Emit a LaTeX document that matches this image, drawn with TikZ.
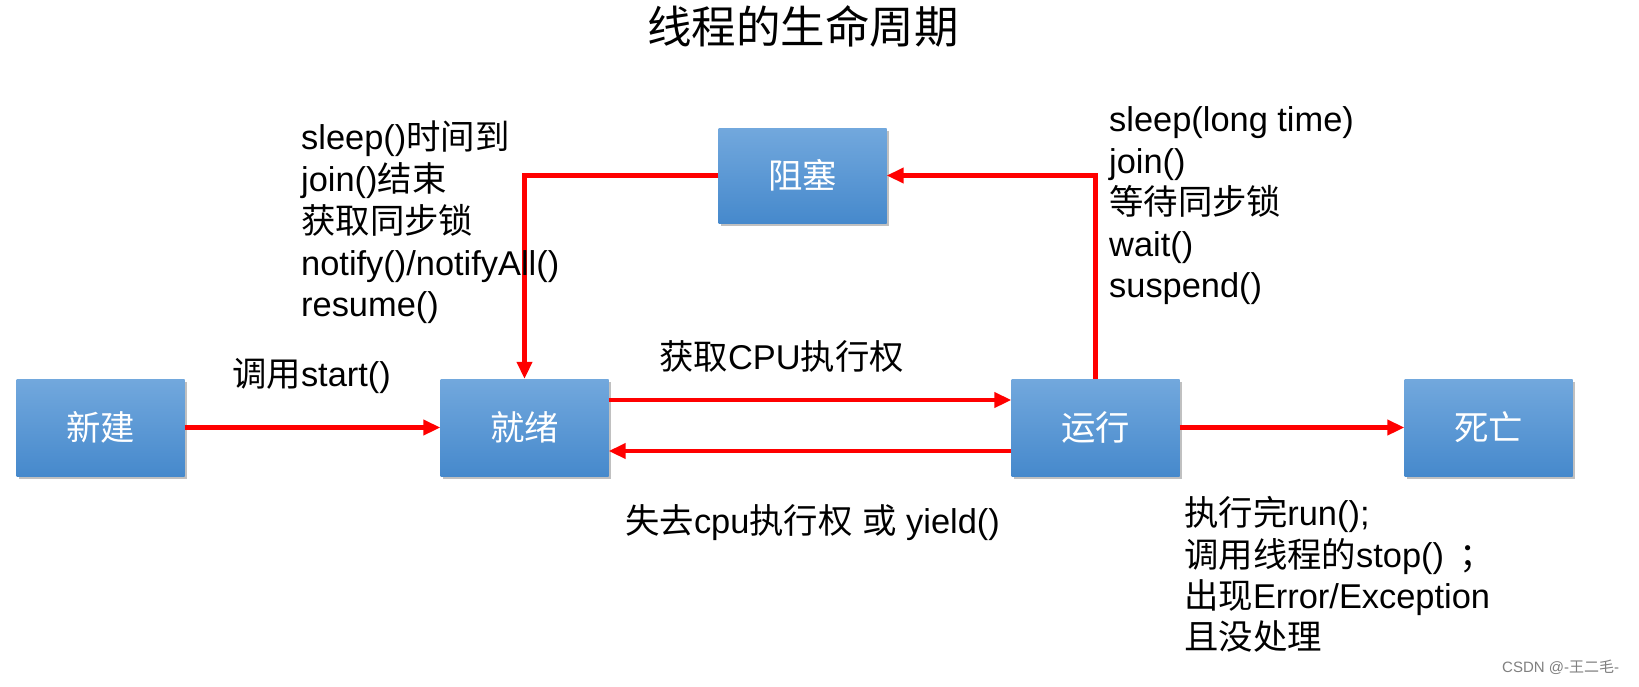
\documentclass[tikz,border=0pt]{standalone}
\usepackage{fontspec}
\setmainfont{Liberation Sans}
\newfontfamily\cjk{Noto Sans CJK SC}
\usetikzlibrary{arrows.meta,shadows}
\newcommand{\zh}[1]{{\cjk #1}}
\definecolor{boxtop}{RGB}{114,168,221}
\definecolor{boxbot}{RGB}{70,137,204}
\definecolor{arrowred}{RGB}{255,0,0}
\tikzset{
  state/.style={rectangle, minimum width=168pt, minimum height=97pt, inner sep=0pt,
    top color=boxtop, bottom color=boxbot, text=white,
    font=\cjk\fontsize{34.4}{40}\selectfont,
    drop shadow={shadow xshift=2pt, shadow yshift=-3pt, opacity=0.35, fill=black!70}},
  flow/.style={draw=arrowred, line width=4.2pt, -{Triangle[length=17pt,width=15pt]}},
  lbl/.style={anchor=base west, inner sep=0pt, font=\fontsize{34.4}{41.7}\selectfont},
}
\begin{document}
\begin{tikzpicture}[x=1pt,y=-1pt]
\useasboundingbox[fill=white] (0,0) rectangle (1639,686);
% title
\node[anchor=base, inner sep=0pt, font=\cjk\fontsize{44.5}{50}\selectfont] (title) at (803,43) {线程的生命周期};
% states
\node[state] (xinjian) at (100.5,427.5) {新建};
\node[state] (jiuxu) at (524.5,427.5) {就绪};
\node[state] (yunxing) at (1095.5,427.5) {运行};
\node[state] (siwang) at (1488.5,427.5) {死亡};
\node[state, minimum height=95pt] (zusai) at (802.5,175.5) {阻塞};
% connectors
\draw[flow] (xinjian) -- (jiuxu);
\draw[flow] ([yshift=27.5pt]jiuxu.east) -- ([yshift=27.5pt]yunxing.west);
\draw[flow] ([yshift=-23.5pt]yunxing.west) -- ([yshift=-23.5pt]jiuxu.east);
\draw[flow] (yunxing) -- (siwang);
\draw[flow] (yunxing.north) |- (zusai.east);
\draw[flow] (zusai.west) -| (jiuxu.north);
% labels
\node[lbl] (start) at (232,386) {\zh{调用}start()};
\node[lbl] (getcpu) at (659,369) {\zh{获取}CPU\zh{执行权}};
\node[lbl] (losecpu) at (625,533) {\zh{失去}cpu\zh{执行权} \zh{或} yield()};
\node[lbl] (a1) at (301,149) {sleep()\zh{时间到}};
\node[lbl] (a2) at (301,191) {join()\zh{结束}};
\node[lbl] (a3) at (301,233) {\zh{获取同步锁}};
\node[lbl] (a4) at (301,275) {notify()/notifyAll()};
\node[lbl] (a5) at (301,316) {resume()};
\node[lbl] (b1) at (1109,131) {sleep(long time)};
\node[lbl] (b2) at (1109,173) {join()};
\node[lbl] (b3) at (1109,214) {\zh{等待同步锁}};
\node[lbl] (b4) at (1109,256) {wait()};
\node[lbl] (b5) at (1109,297) {suspend()};
\node[lbl] (c1) at (1184,525) {\zh{执行完}run();};
\node[lbl] (c2) at (1184,567) {\zh{调用线程的}stop()\hspace{0.45em}\zh{；}};
\node[lbl] (c3) at (1184,608) {\zh{出现}Error/Exception};
\node[lbl] (c4) at (1184,649) {\zh{且没处理}};
\node[anchor=base west, inner sep=0pt, text=black!50, font=\fontsize{15}{18}\selectfont] (wm) at (1502,672) {CSDN @-\zh{王二毛}-};
\end{tikzpicture}
\end{document}
